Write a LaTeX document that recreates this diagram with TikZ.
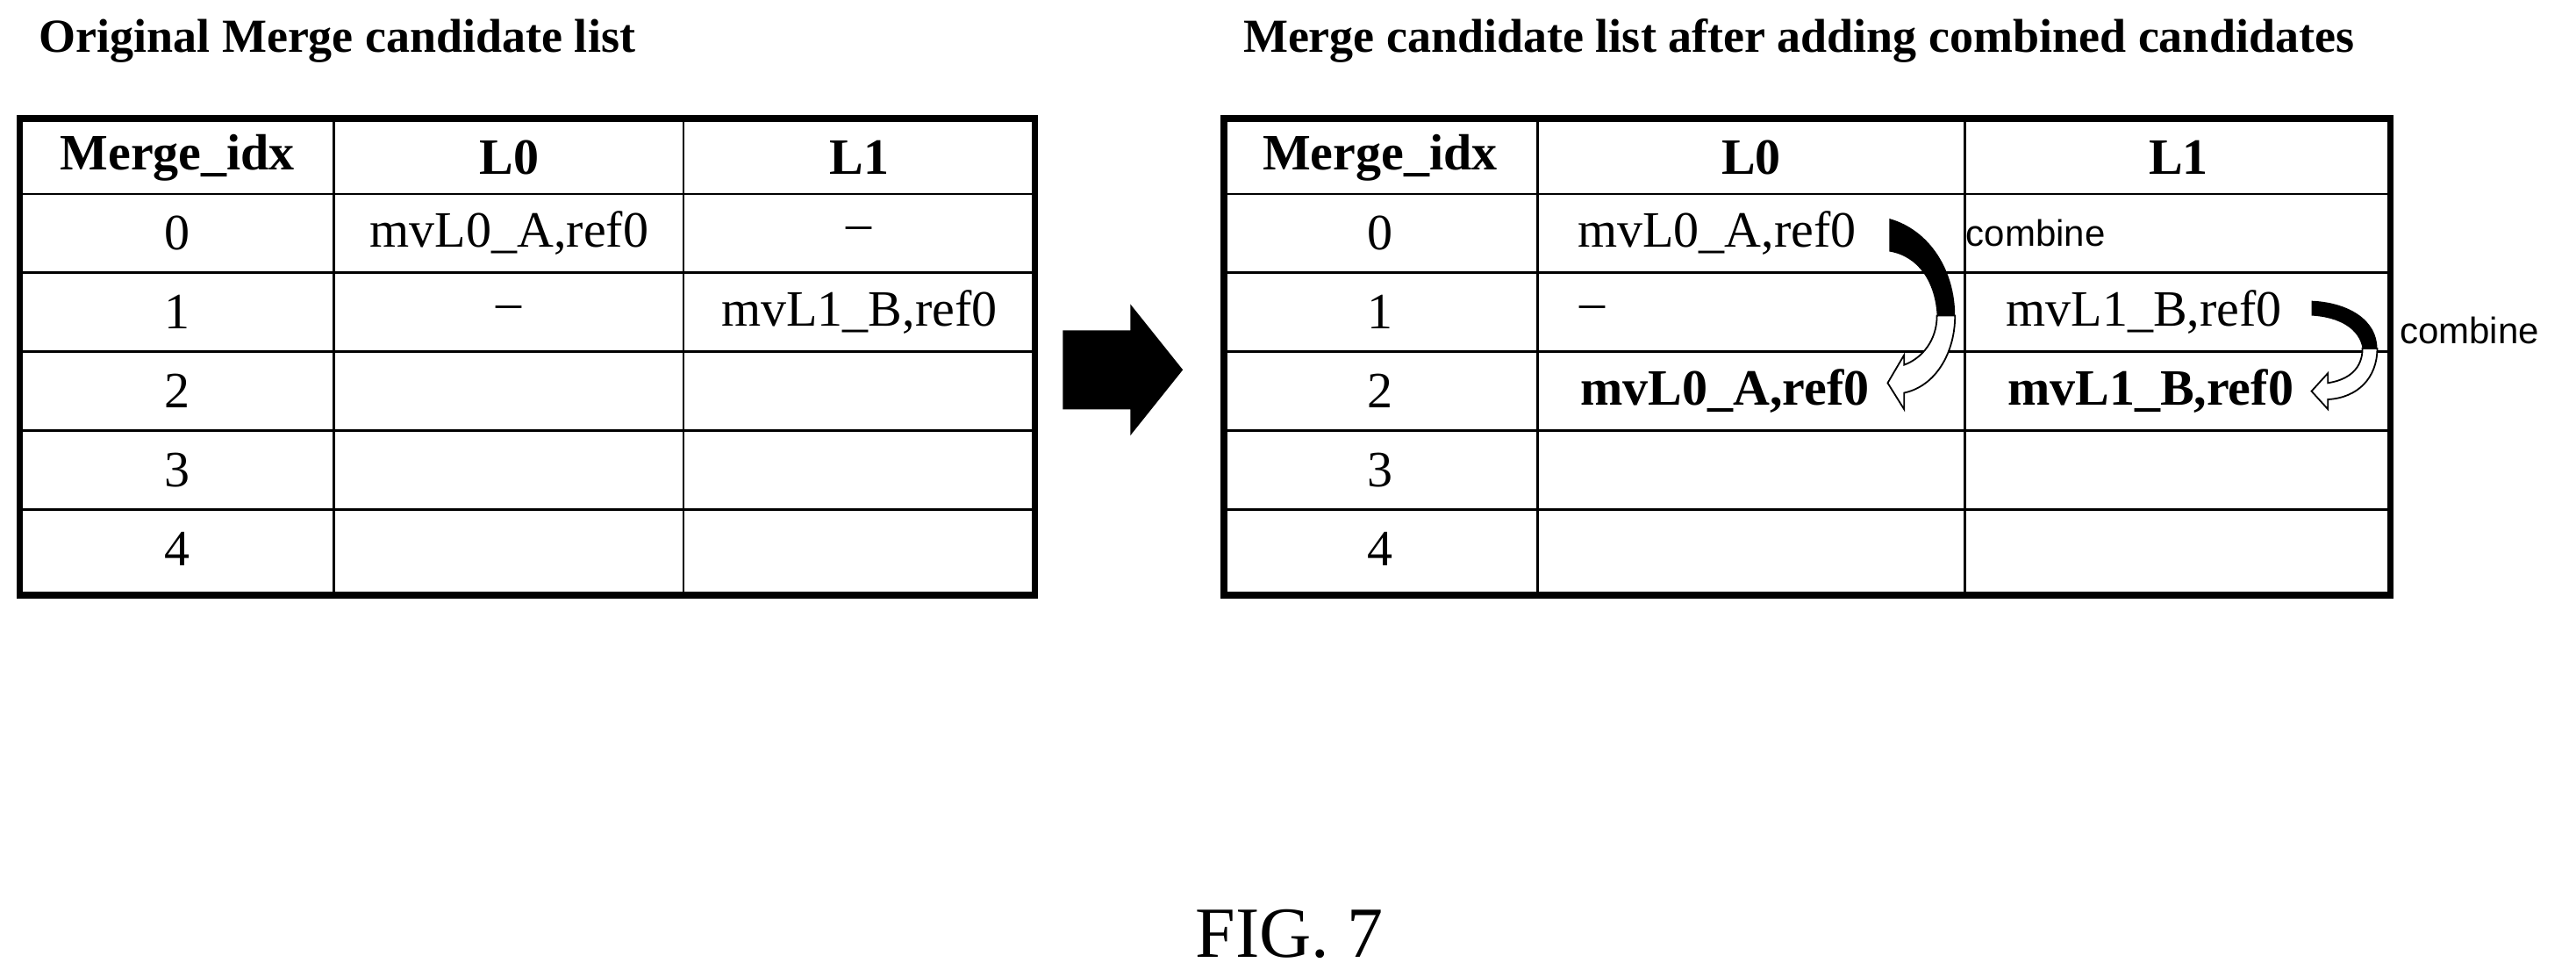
\documentclass[tikz,border=0pt]{standalone}
\usepackage{fontspec}
\setmainfont{Liberation Serif}
\newfontfamily\arialf{Liberation Sans}
\begin{document}
\begin{tikzpicture}[x=0.9362pt,y=-0.9362pt,
  cell/.style={font=\fontsize{29}{30}\selectfont},
  hcell/.style={font=\fontsize{29}{30}\selectfont\bfseries},
  ttl/.style={font=\fontsize{27}{30}\selectfont\bfseries,anchor=base west},
  cmb/.style={font=\fontsize{21}{24}\selectfont\arialf,anchor=west},
  outer/.style={line width=3.7pt},
  inner/.style={line width=1.4pt}]
\useasboundingbox (0,0) rectangle (1568,594);
% titles
\node[ttl] (t1) at (20,32) {Original Merge candidate list};
\node[ttl] (t2) at (753,32) {Merge candidate list after adding combined candidates};
% left table
\foreach \y in {118,166,214,262,310} \draw[inner] (12,\y) -- (630,\y);
\draw[inner] (203,72) -- (203,362);
\draw[inner] (416,72) -- (416,362);
\draw[outer] (12,72) rectangle (630,362);
\node[hcell] (lh0) at (108,96) {Merge\_idx};
\node[hcell] (lh1) at (310,96) {L0};
\node[hcell] (lh2) at (523,96) {L1};
\foreach \i/\y in {0/142,1/190,2/238,3/286,4/334} \node[cell] (li\i) at (108,\y) {\i};
\node[cell] (la0) at (310,142) {mvL0\_A,ref0};
\node[cell] (lb0) at (523,142) {--};
\node[cell] (la1) at (310,190) {--};
\node[cell] (lb1) at (523,190) {mvL1\_B,ref0};
% big arrow
\fill (647,201) -- (688,201) -- (688,185) -- (720,225) -- (688,265) -- (688,249) -- (647,249) -- cycle;
% right table
\foreach \y in {118,166,214,262,310} \draw[inner] (745,\y) -- (1455,\y);
\draw[inner] (936,72) -- (936,362);
\draw[inner] (1196,72) -- (1196,362);
\draw[outer] (745,72) rectangle (1455,362);
\node[hcell] (rh0) at (840,96) {Merge\_idx};
\node[hcell] (rh1) at (1066,96) {L0};
\node[hcell] (rh2) at (1326,96) {L1};
\foreach \i/\y in {0/142,1/190,2/238,3/286,4/334} \node[cell] (ri\i) at (840,\y) {\i};
\node[cell] (ra0) at (1045,142) {mvL0\_A,ref0};
\node[cell,anchor=west] (ra1) at (958,190) {--};
\node[hcell] (ra2) at (1050,238) {mvL0\_A,ref0};
\node[cell] (rb1) at (1305,190) {mvL1\_B,ref0};
\node[hcell] (rb2) at (1309,238) {mvL1\_B,ref0};
% combine arrows
\fill (1150,133) .. controls (1175,140) and (1190,165) .. (1190,192) -- (1179,192) .. controls (1178,172) and (1168,156) .. (1150,153) -- cycle;
\draw[fill=white,line width=0.9pt,line join=miter] (1190,192) .. controls (1190,215) and (1178,235) .. (1159,239) -- (1159,249) -- (1149,233) -- (1159,216) -- (1159,222) .. controls (1170,218) and (1179,207) .. (1179,192) -- cycle;
\fill (1407,183) .. controls (1430,184) and (1447,195) .. (1447,212) -- (1438,212) .. controls (1436,200) and (1424,193) .. (1407,192) -- cycle;
\draw[fill=white,line width=0.9pt,line join=miter] (1447,212) .. controls (1447,230) and (1435,242) .. (1417,243) -- (1417,249) -- (1407,238) -- (1417,227) -- (1417,233) .. controls (1430,231) and (1438,224) .. (1438,212) -- cycle;
\node[cmb] (c1) at (1193,142) {combine};
\node[cmb] (c2) at (1457,201) {combine};
% caption
\node[font=\fontsize{41}{44}\selectfont] (fig) at (785,568) {FIG. 7};
\end{tikzpicture}
\end{document}
